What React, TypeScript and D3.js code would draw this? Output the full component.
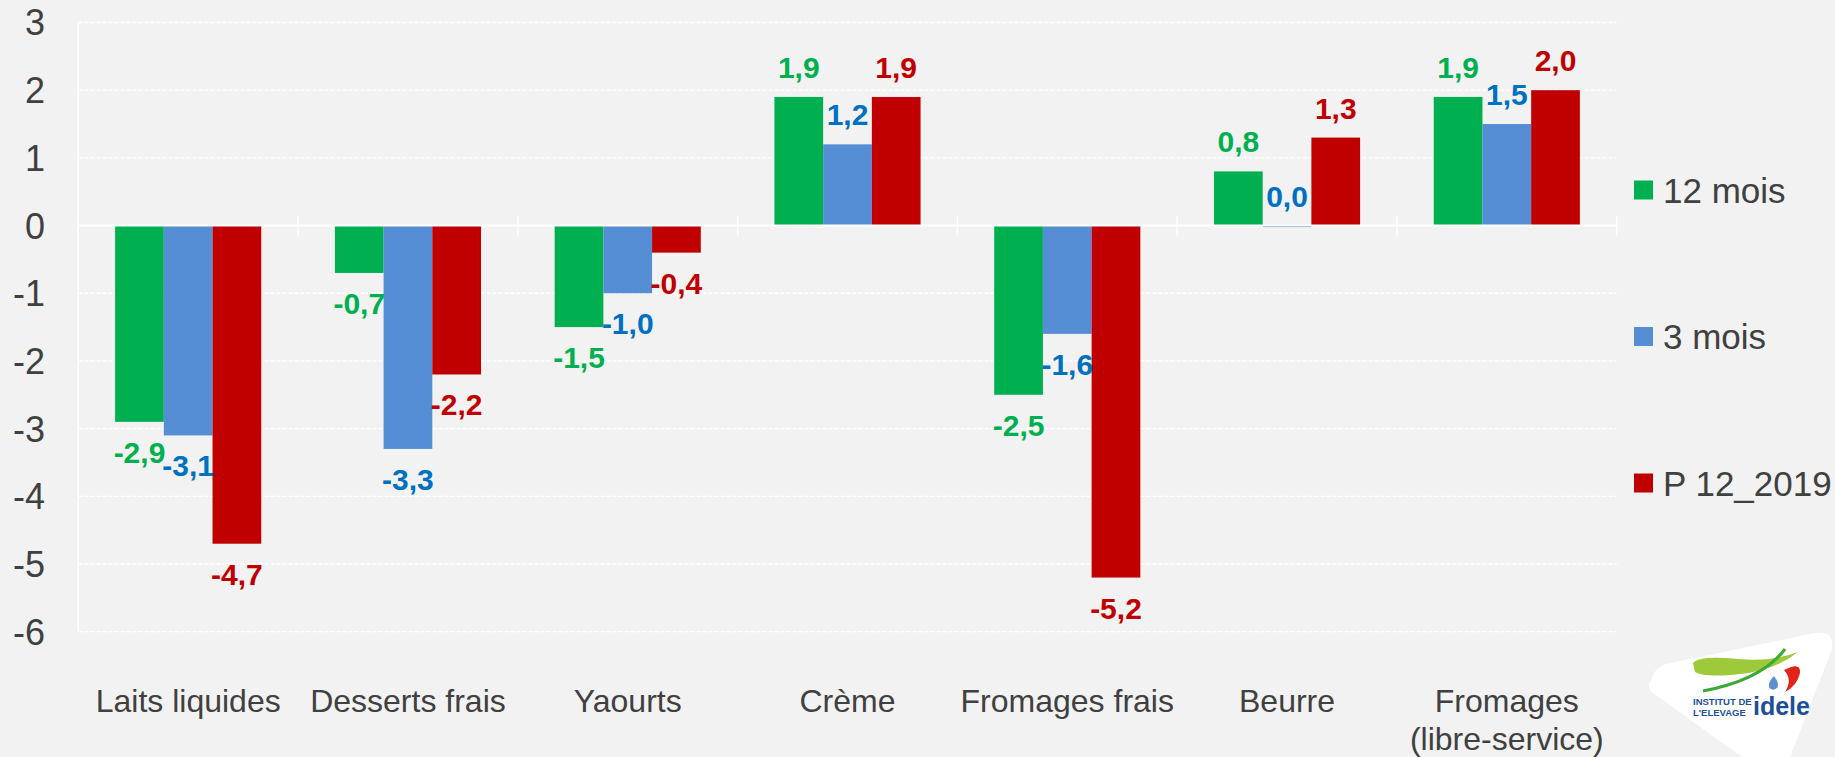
import React from "react";
import * as d3 from "d3";

const categories = [
  ["Laits liquides"],
  ["Desserts frais"],
  ["Yaourts"],
  ["Crème"],
  ["Fromages frais"],
  ["Beurre"],
  ["Fromages", "(libre-service)"],
];
const seriesNames = ["12 mois", "3 mois", "P 12_2019"];
const douzeMois = [-2.9, -0.7, -1.5, 1.9, -2.5, 0.8, 1.9];
const troisMois = [-3.1, -3.3, -1.0, 1.2, -1.6, 0.0, 1.5];
const p122019 = [-4.7, -2.2, -0.4, 1.9, -5.2, 1.3, 2.0];
const yTicks = [3, 2, 1, 0, -1, -2, -3, -4, -5, -6];

const barColors = ["#00b050", "#558ed5", "#c00000"];
const labelColors = ["#00b050", "#0070c0", "#c00000"];

const W = 1835;
const H = 757;
const FONT = "'Liberation Sans', Arial, sans-serif";

export default function App() {
  const series = [douzeMois, troisMois, p122019];
  const left = 78.3;
  const right = 1616.7;

  const y = d3.scaleLinear().domain([-6, 3]).range([631.7, 22.5]);
  const x0 = d3
    .scaleBand<number>()
    .domain(d3.range(categories.length))
    .range([left, right])
    .padding(0);
  const x1 = d3
    .scaleBand<number>()
    .domain(d3.range(series.length))
    .range([0, x0.bandwidth()])
    .paddingInner(0)
    .paddingOuter(0.756);

  const fmt = (v: number) => v.toFixed(1).replace(".", ",");
  const boundaries = d3.range(categories.length + 1).map((i) => left + i * x0.step());

  return (
    <svg
      width={W}
      height={H}
      style={{ position: "absolute", left: 0, top: 0, display: "block" }}
      fontFamily={FONT}
    >
      <rect x={0} y={0} width={W} height={H} fill="#f2f2f2" />

      {/* grid */}
      {yTicks
        .filter((t) => t !== 0)
        .map((t) => (
          <line
            key={t}
            x1={left}
            x2={right}
            y1={y(t)}
            y2={y(t)}
            stroke="#ffffff"
            strokeWidth={1.3}
            strokeDasharray="4,2"
          />
        ))}
      <line x1={left} x2={left} y1={y(3)} y2={y(-6)} stroke="#ffffff" strokeWidth={1.5} />

      {/* y labels */}
      {yTicks.map((t) => (
        <text
          key={t}
          x={45}
          y={y(t)}
          dy="0.36em"
          textAnchor="end"
          fontSize={36}
          fill="#404040"
        >
          {t}
        </text>
      ))}

      {/* bars */}
      {series.map((vals, s) =>
        vals.map((v, i) => (
          <rect
            key={`${s}-${i}`}
            x={x0(i)! + x1(s)!}
            width={x1.bandwidth()}
            y={Math.min(y(v), y(0))}
            height={Math.max(Math.abs(y(v) - y(0)), 1.5)}
            fill={barColors[s]}
          />
        ))
      )}

      {/* zero axis + ticks */}
      <line x1={left} x2={right} y1={y(0)} y2={y(0)} stroke="#ffffff" strokeWidth={2} />
      {boundaries.map((bx, i) => (
        <line key={i} x1={bx} x2={bx} y1={y(0) - 10} y2={y(0) + 10} stroke="#ffffff" strokeWidth={1.5} />
      ))}

      {/* value labels */}
      {series.map((vals, s) =>
        vals.map((v, i) => (
          <text
            key={`l${s}-${i}`}
            x={x0(i)! + x1(s)! + x1.bandwidth() / 2}
            y={v >= 0 ? y(v) - 19 : y(v) + 41}
            textAnchor="middle"
            fontSize={30}
            fontWeight="bold"
            fill={labelColors[s]}
          >
            {fmt(v)}
          </text>
        ))
      )}

      {/* category labels */}
      {categories.map((lines, i) => (
        <text
          key={i}
          x={x0(i)! + x0.bandwidth() / 2}
          y={712}
          textAnchor="middle"
          fontSize={32}
          fill="#404040"
        >
          {lines.map((ln, k) => (
            <tspan key={k} x={x0(i)! + x0.bandwidth() / 2} dy={k === 0 ? 0 : 38}>
              {ln}
            </tspan>
          ))}
        </text>
      ))}

      {/* legend */}
      {seriesNames.map((name, s) => {
        const cy = 190 + s * 146.5;
        return (
          <g key={name}>
            <rect x={1634} y={cy - 9.5} width={19} height={19} fill={barColors[s]} />
            <text x={1663} y={cy} dy="0.36em" fontSize={35} fill="#404040">
              {name}
            </text>
          </g>
        );
      })}

      {/* logo */}
      <g>
        <path
          d="M1652,679 Q1644,688 1656,695 L1742,757 L1790,757 L1831,652 Q1837,631 1815,633 L1666,664 Q1654,668 1652,679 Z"
          fill="#ffffff"
        />
        <path
          d="M1693,663 Q1700,655 1738,659 Q1772,662 1798,652 Q1774,671 1740,674 Q1705,678 1695,672 Z"
          fill="#9dc93b"
        />
        <path d="M1703,691 Q1762,680 1785,649" fill="none" stroke="#3aa935" strokeWidth={3} />
        <path d="M1784,670 Q1801,661 1800,673 Q1797,686 1785,692 Q1793,680 1784,670 Z" fill="#e2231a" />
        <path d="M1774,676 Q1780,684 1777,688 Q1772,692 1769,687 Q1768,682 1774,676 Z" fill="#5b8fd0" />
        <text x={1693} y={705} fontSize={9.5} fontWeight="bold" fill="#1b4f9c">
          INSTITUT DE
        </text>
        <text x={1693} y={716} fontSize={9.5} fontWeight="bold" fill="#1b4f9c">
          L'ELEVAGE
        </text>
        <text x={1753} y={715} fontSize={25} fontWeight="bold" fill="#1b4f9c">
          idele
        </text>
      </g>
    </svg>
  );
}
